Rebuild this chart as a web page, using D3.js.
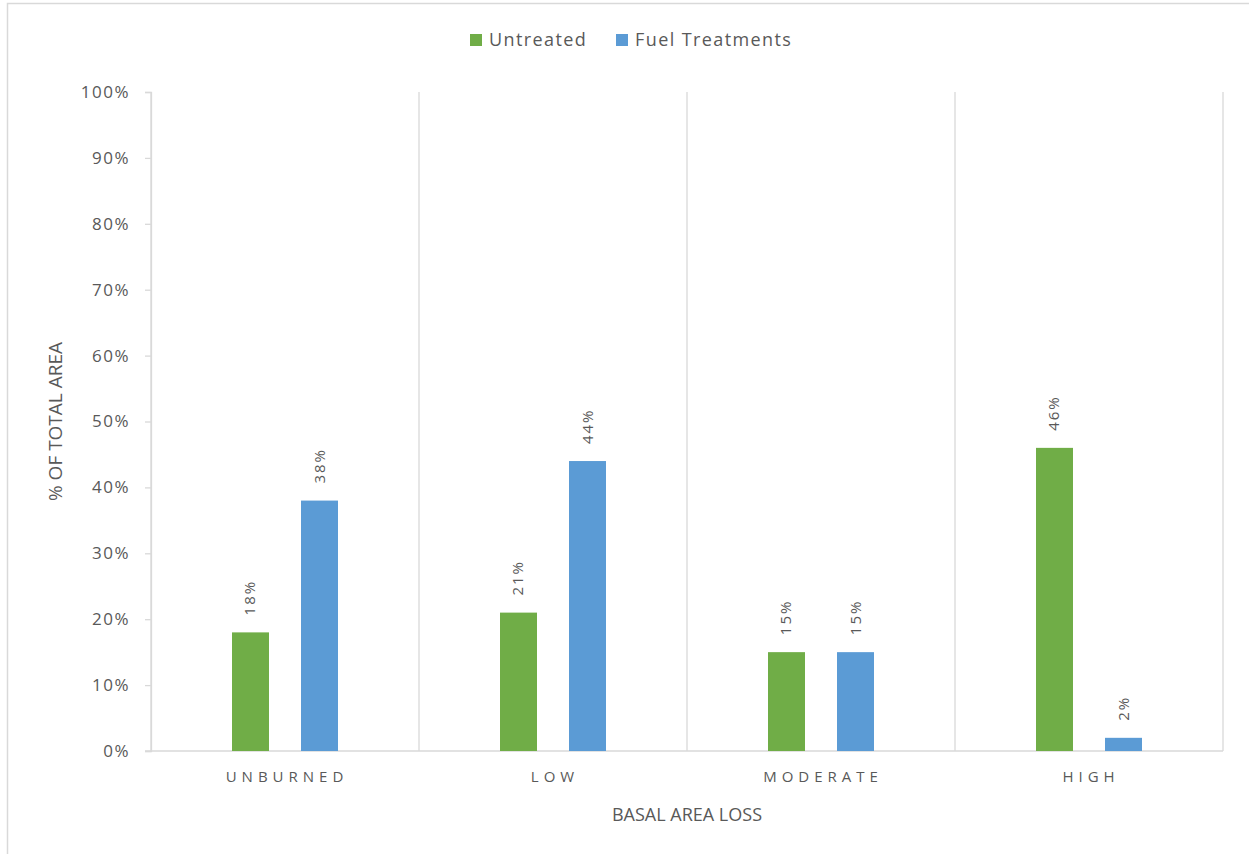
<!DOCTYPE html>
<html>
<head>
<meta charset="utf-8">
<script src="https://cdn.jsdelivr.net/npm/d3@7"></script>
<style>
  body { margin: 0; background: #fff; }
  text { font-family: "Open Sans", sans-serif; fill: #595959; }
</style>
</head>
<body>
<script>
let categories = ['UNBURNED', 'LOW', 'MODERATE', 'HIGH'];
let seriesNames = ['Untreated', 'Fuel Treatments'];
let untreated = [18, 21, 15, 46];
let fuelTreatments = [38, 44, 15, 2];
let yTicks = [0, 10, 20, 30, 40, 50, 60, 70, 80, 90, 100];

let width = 1249;
let height = 854;
let margin = {top: 92, right: 26, bottom: 103, left: 151};

let colors = {'Untreated': '#70ad47', 'Fuel Treatments': '#5b9bd5'};

let svg = d3.select('body')
    .append('svg')
    .attr('width', width)
    .attr('height', height);

// chart border (only left and top show in the picture)
svg.append('rect')
    .attr('x', 7.5).attr('y', 3.5)
    .attr('width', width + 10).attr('height', height + 10)
    .attr('fill', 'none')
    .attr('stroke', '#d9d9d9')
    .attr('stroke-width', 1.5);

let x0 = d3.scaleBand()
    .domain(categories)
    .range([margin.left, width - margin.right])
    .paddingInner(0)
    .paddingOuter(0);

let x1 = d3.scaleBand()
    .domain(seriesNames)
    .range([0, x0.bandwidth()])
    .paddingInner(0.464)
    .paddingOuter(1.174);

let y = d3.scaleLinear()
    .domain([0, 100])
    .range([height - margin.bottom, margin.top]);

let rows = categories.map((c, i) => ({
    category: c,
    values: [
        {series: 'Untreated', value: untreated[i]},
        {series: 'Fuel Treatments', value: fuelTreatments[i]}
    ]
}));

// vertical gridlines at category boundaries
let bounds = categories.map(c => x0(c)).concat([x0.range()[1]]);
svg.append('g')
    .selectAll('line')
    .data(bounds)
    .enter().append('line')
      .attr('x1', d => d).attr('x2', d => d)
      .attr('y1', y(100)).attr('y2', y(0))
      .attr('stroke', '#d9d9d9')
      .attr('stroke-width', 1.3);

// y axis
let yAxis = svg.append('g')
    .attr('transform', `translate(${margin.left},0)`)
    .call(d3.axisLeft(y).tickValues(yTicks).tickSize(6).tickPadding(15).tickFormat(d => d + '%'));
yAxis.select('.domain').attr('stroke', '#d9d9d9').attr('stroke-width', 1.3);
yAxis.selectAll('.tick line').attr('stroke', '#d9d9d9').attr('stroke-width', 1.3);
yAxis.selectAll('.tick text')
    .attr('font-family', '"Open Sans", sans-serif')
    .attr('font-size', 17)
    .attr('letter-spacing', 1.5)
    .attr('fill', '#595959');

// x axis
let xAxis = svg.append('g')
    .attr('transform', `translate(0,${y(0)})`)
    .call(d3.axisBottom(x0).tickSize(0).tickPadding(20));
xAxis.select('.domain').attr('stroke', '#d9d9d9').attr('stroke-width', 1.5)
    .attr('d', `M${margin.left - 6},0H${x0.range()[1]}`);
xAxis.selectAll('.tick text')
    .attr('font-family', '"Open Sans", sans-serif')
    .attr('font-size', 15)
    .attr('letter-spacing', 5)
    .attr('dx', 2)
    .attr('fill', '#404040');

// bars
let groups = svg.append('g')
    .selectAll('g')
    .data(rows)
    .enter().append('g')
      .attr('transform', d => `translate(${x0(d.category)},0)`);

groups.selectAll('rect')
    .data(d => d.values)
    .enter().append('rect')
      .attr('x', d => x1(d.series))
      .attr('y', d => y(d.value))
      .attr('width', x1.bandwidth())
      .attr('height', d => y(0) - y(d.value))
      .attr('fill', d => colors[d.series]);

// rotated data labels
groups.selectAll('text.label')
    .data(d => d.values)
    .enter().append('text')
      .attr('class', 'label')
      .attr('transform', d => `translate(${x1(d.series) + x1.bandwidth() / 2 + 5},${y(d.value) - 17}) rotate(-90)`)
      .attr('text-anchor', 'start')
      .attr('font-size', 15)
      .attr('letter-spacing', 2)
      .text(d => d.value + '%');

// axis titles
svg.append('text')
    .attr('x', (margin.left + x0.range()[1]) / 2)
    .attr('y', 821)
    .attr('text-anchor', 'middle')
    .attr('font-size', 18)
    .text('BASAL AREA LOSS');

svg.append('text')
    .attr('transform', `translate(62,${(y(0) + y(100)) / 2}) rotate(-90)`)
    .attr('text-anchor', 'middle')
    .attr('font-size', 19)
    .text('% OF TOTAL AREA');

// legend
let legendX = [470, 616];
let legend = svg.append('g')
    .selectAll('g')
    .data(seriesNames)
    .enter().append('g')
      .attr('transform', (d, i) => `translate(${legendX[i]},34)`);

legend.append('rect')
    .attr('width', 12).attr('height', 12)
    .attr('fill', d => colors[d]);

legend.append('text')
    .attr('x', 19).attr('y', 12)
    .attr('font-size', 18)
    .attr('letter-spacing', 1.4)
    .text(d => d);
</script>
</body>
</html>
